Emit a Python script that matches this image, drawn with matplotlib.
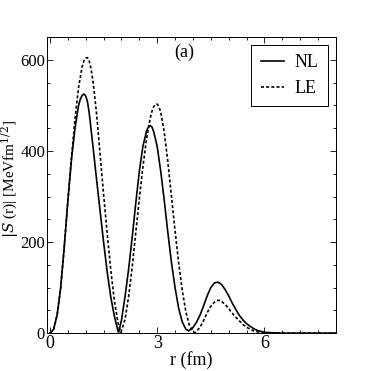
import numpy as np
import matplotlib
matplotlib.use("Agg")
import matplotlib.pyplot as plt
from matplotlib.ticker import MultipleLocator

# r grid (fm) and values
r_nl = [0.0, 0.1, 0.2, 0.3, 0.4, 0.5, 0.6, 0.7, 0.8, 0.85, 0.9, 0.95, 1.0, 1.05, 1.1, 1.2, 1.3,
        1.4, 1.5, 1.6, 1.7, 1.8, 1.9, 1.92, 2.0, 2.1, 2.2, 2.3, 2.4, 2.5, 2.6, 2.7,
        2.75, 2.8, 2.85, 2.9, 3.0, 3.1, 3.2, 3.3, 3.4, 3.5, 3.6, 3.7, 3.8, 3.88, 4.0, 4.1, 4.2,
        4.3, 4.4, 4.5, 4.6, 4.7, 4.8, 4.9, 5.0, 5.1, 5.2, 5.3, 5.4, 5.5, 5.6, 5.7,
        5.8, 5.9, 6.0, 6.2, 6.5, 7.0, 8.0]
s_nl = [0, 8, 40, 100, 190, 290, 380, 450, 500, 514, 522, 525, 521, 508, 482, 412, 340,
        270, 200, 135, 80, 38, 6, 2, 28, 80, 140, 210, 285, 355, 410, 443,
        452, 456, 453, 443, 410, 355, 290, 220, 155, 100, 55, 25, 9, 5, 12, 24, 40,
        60, 82, 100, 110, 112, 107, 96, 82, 66, 52, 39, 29, 21, 15, 10,
        6, 4, 2, 1, 0, 0, 0]

r_le = [0.0, 0.1, 0.2, 0.3, 0.4, 0.5, 0.6, 0.7, 0.8, 0.9, 0.95, 1.0, 1.05, 1.1, 1.15, 1.2, 1.3,
        1.4, 1.5, 1.6, 1.7, 1.8, 1.9, 1.98, 2.0, 2.1, 2.2, 2.3, 2.4, 2.5, 2.6, 2.7,
        2.8, 2.85, 2.9, 2.95, 3.0, 3.05, 3.1, 3.2, 3.3, 3.4, 3.5, 3.6, 3.7, 3.8, 3.9, 4.0, 4.05,
        4.1, 4.2, 4.3, 4.4, 4.5, 4.6, 4.7, 4.75, 4.8, 4.9, 5.0, 5.1, 5.2, 5.3, 5.4,
        5.5, 5.6, 5.7, 5.8, 5.9, 6.0, 6.2, 7.0, 8.0]
s_le = [0, 8, 40, 100, 190, 290, 385, 470, 540, 585, 598, 604, 605, 597, 580, 555, 485,
        395, 305, 220, 140, 72, 24, 2, 5, 30, 80, 145, 220, 295, 365, 425,
        470, 486, 497, 502, 503, 497, 485, 440, 375, 300, 225, 155, 95, 48, 17, 4, 1,
        4, 13, 28, 45, 59, 68, 72, 72, 70, 63, 54, 44, 35, 27, 19,
        13, 9, 5, 3, 2, 1, 0, 0, 0]

x_ticks = [0, 3, 6]
y_ticks = [0, 200, 400, 600]

plt.rcParams['font.family'] = ['Liberation Serif', 'DejaVu Serif']
plt.rcParams['mathtext.fontset'] = 'dejavuserif'

fig = plt.figure(figsize=(3.74, 3.71), dpi=100)
ax = fig.add_axes([0.126, 0.102, 0.772, 0.798])

ax.plot(r_nl, s_nl, color='black', lw=1.2, label='NL')
ax.plot(r_le, s_le, color='black', lw=1.2, linestyle=(0, (1.8, 1.3)), label='LE')

ax.set_xlim(-0.08, 8.0)
ax.set_ylim(0, 650)
ax.set_xticks(x_ticks)
ax.set_yticks(y_ticks)
ax.xaxis.set_minor_locator(MultipleLocator(0.5))
ax.yaxis.set_minor_locator(MultipleLocator(50))
ax.tick_params(which='both', direction='in', top=True, right=True,
               labelsize=13, width=0.6, pad=1)
ax.tick_params(axis='y', pad=1.5, labelsize=12)
ax.tick_params(which='major', length=4)
ax.tick_params(which='minor', length=2)
for sp in ax.spines.values():
    sp.set_linewidth(0.7)

ax.set_xlabel('r (fm)', fontsize=13, labelpad=0)
ax.set_ylabel(r'$|\tilde{S}$ (r)| [MeVfm$^{1/2}$]', fontsize=11)
ax.yaxis.set_label_coords(-0.09, 0.52)
ax.text(3.77, 617, '(a)', fontsize=13, ha='center', va='center')

leg = ax.legend(loc='upper right', fontsize=13, frameon=True, fancybox=False,
                edgecolor='black', framealpha=1, handlelength=1.3,
                handletextpad=0.6, borderaxespad=0.45, labelspacing=0.5,
                borderpad=0.5)
leg.get_frame().set_linewidth(0.7)

fig.savefig('out.png', dpi=100)
